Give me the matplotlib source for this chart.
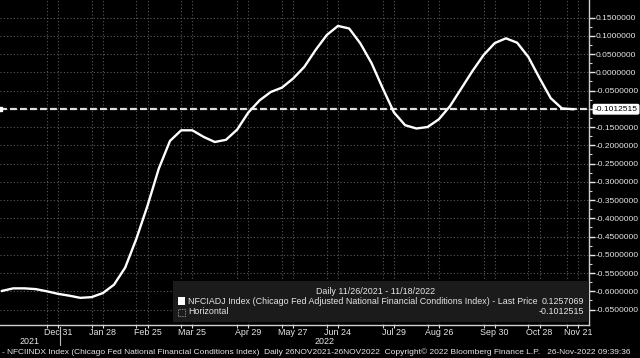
import numpy as np
import pandas as pd
import matplotlib
matplotlib.use("Agg")
import matplotlib.pyplot as plt
import matplotlib.dates as mdates
from matplotlib.patches import Rectangle

plt.rcParams['font.family'] = ['Liberation Sans', 'DejaVu Sans']
plt.rcParams['axes.unicode_minus'] = False

# weekly NFCI adjusted values, 11/26/2021 - 11/18/2022
dates = pd.date_range('2021-11-26', '2022-11-18', freq='7D')
nfci = [-0.599, -0.592, -0.592, -0.594, -0.600, -0.607, -0.612, -0.618, -0.616, -0.605,
        -0.582, -0.535, -0.456, -0.365, -0.264, -0.188, -0.159, -0.159, -0.177, -0.191,
        -0.185, -0.157, -0.110, -0.077, -0.054, -0.042, -0.017, 0.015, 0.061, 0.102,
        0.127, 0.120, 0.079, 0.025, -0.044, -0.110, -0.145, -0.154, -0.150, -0.129,
        -0.093, -0.045, 0.003, 0.047, 0.080, 0.093, 0.081, 0.042, -0.016, -0.071,
        -0.099, -0.1012515]
horizontal = -0.1012515
last_price = 0.1257069

tick_dates = pd.to_datetime(['2021-12-31', '2022-01-28', '2022-02-25', '2022-03-25',
                             '2022-04-29', '2022-05-27', '2022-06-24', '2022-07-29',
                             '2022-08-26', '2022-09-30', '2022-10-28', '2022-11-21'])
tick_labels = ['Dec 31', 'Jan 28', 'Feb 25', 'Mar 25', 'Apr 29', 'May 27', 'Jun 24',
               'Jul 29', 'Aug 26', 'Sep 30', 'Oct 28', 'Nov 21']
yticks = np.round(np.arange(-0.65, 0.151, 0.05), 2)

W, H = 640, 358
fig = plt.figure(figsize=(6.4, 3.58), dpi=100, facecolor='black')
ax = fig.add_axes([0, 1 - 324.5 / H, 589 / W, 324.5 / H], facecolor='black')

txt = '#e6e6e6'
grid_c = '#5a5a5a'

# grid
for d in tick_dates:
    for g in (d, d - pd.Timedelta(days=7)):
        ax.axvline(g, color=grid_c, lw=0.8, ls=(0, (1, 2)), zorder=1)
for v in yticks:
    ax.axhline(v, color=grid_c, lw=0.8, ls=(0, (1, 2)), zorder=1)

ax.axhline(horizontal, color='#e0e0e0', lw=1.6, ls=(0, (3.1, 1.4)), zorder=3)
ax.plot(dates, nfci, color='white', lw=1.7, zorder=4)

ax.set_xlim(pd.Timestamp('2021-11-24 18:00'), pd.Timestamp('2022-11-27 22:00'))
ax.set_ylim(-0.691, 0.198)
ax.plot([ax.get_xlim()[0]], [horizontal], marker='s', ms=3.5, color='white',
        clip_on=False, zorder=5)

for s in ['top', 'left']:
    ax.spines[s].set_visible(False)
for s in ['bottom', 'right']:
    ax.spines[s].set_color('#d0d0d0')
    ax.spines[s].set_linewidth(1.0)

ax.yaxis.tick_right()
ax.set_yticks(yticks)
ax.set_yticklabels(['%.7f' % v for v in yticks])
ax.set_yticks(yticks[:-1] + 0.025, minor=True)
ax.tick_params(axis='y', which='major', colors=txt, labelsize=6.0, length=4, width=1, pad=1)
ax.tick_params(axis='y', which='minor', colors='#d0d0d0', length=2, width=0.8)

ax.set_xticks(tick_dates)
ax.set_xticklabels(tick_labels)
minor = list(tick_dates - pd.Timedelta(days=7))
ax.set_xticks(minor, minor=True)
ax.tick_params(axis='x', which='major', colors=txt, labelsize=6.4, length=2, width=0.8, pad=0.5)
ax.tick_params(axis='x', which='minor', colors='#d0d0d0', length=2, width=0.8)

# value label on right axis
ax.annotate('-0.1012515', xy=(1.0, horizontal), xycoords=('axes fraction', 'data'),
            xytext=(4, 0), textcoords='offset points', va='center', ha='left',
            fontsize=6.0, color='black',
            bbox=dict(boxstyle='round,pad=0.15', fc='white', ec='white'))

# year labels
bt = ax.get_xaxis_transform()
jan1 = pd.Timestamp('2022-01-01')
x0, x1 = [mdates.num2date(v).replace(tzinfo=None) for v in ax.get_xlim()]
ax.plot([jan1, jan1], [-0.008, -0.062], color='#bbbbbb', lw=0.8, transform=bt, clip_on=False)
ax.text(x0 + (jan1 - x0) / 2, -0.051, '2021', transform=bt, ha='center', va='center',
        color=txt, fontsize=6.4)
ax.text(jan1 + (x1 - jan1) / 2, -0.051, '2022', transform=bt, ha='center', va='center',
        color=txt, fontsize=6.4)

# legend box
fig.patches.append(Rectangle((173 / W, 1 - 322 / H), (589 - 173) / W, 41 / H,
                             transform=fig.transFigure, fc='#1b1b1b', ec='none', zorder=2))
fs = 6.4
fig.text(316 / W, 1 - 291 / H, 'Daily 11/26/2021 - 11/18/2022', color=txt, fontsize=fs,
         va='center', zorder=6)
fig.patches.append(Rectangle((178 / W, 1 - 305 / H), 7 / W, 8 / H, transform=fig.transFigure,
                             fc='white', ec='none', zorder=6))
fig.text(188 / W, 1 - 301.5 / H,
         'NFCIADJ Index (Chicago Fed Adjusted National Financial Conditions Index) - Last Price',
         color=txt, fontsize=fs, va='center', zorder=6)
fig.text(584 / W, 1 - 301.5 / H, '%.7f' % last_price, color=txt, fontsize=fs,
         va='center', ha='right', zorder=6)
fig.patches.append(Rectangle((178 / W, 1 - 316 / H), 7 / W, 7 / H, transform=fig.transFigure,
                             fc='none', ec='#aaaaaa', lw=0.6, ls=(0, (1, 1)), zorder=6))
fig.text(188 / W, 1 - 312 / H, 'Horizontal', color=txt, fontsize=fs, va='center', zorder=6)
fig.text(584 / W, 1 - 312 / H, '%.7f' % horizontal, color=txt, fontsize=fs,
         va='center', ha='right', zorder=6)

# footer
fig.text(2 / W, 1 - 352 / H,
         '- NFCIINDX Index (Chicago Fed National Financial Conditions Index)  Daily 26NOV2021-26NOV2022'
         '  Copyright\u00a9 2022 Bloomberg Finance L.P.   26-Nov-2022 09:39:36',
         color=txt, fontsize=6.0, va='center')

fig.savefig('out.png', dpi=100, facecolor='black')
